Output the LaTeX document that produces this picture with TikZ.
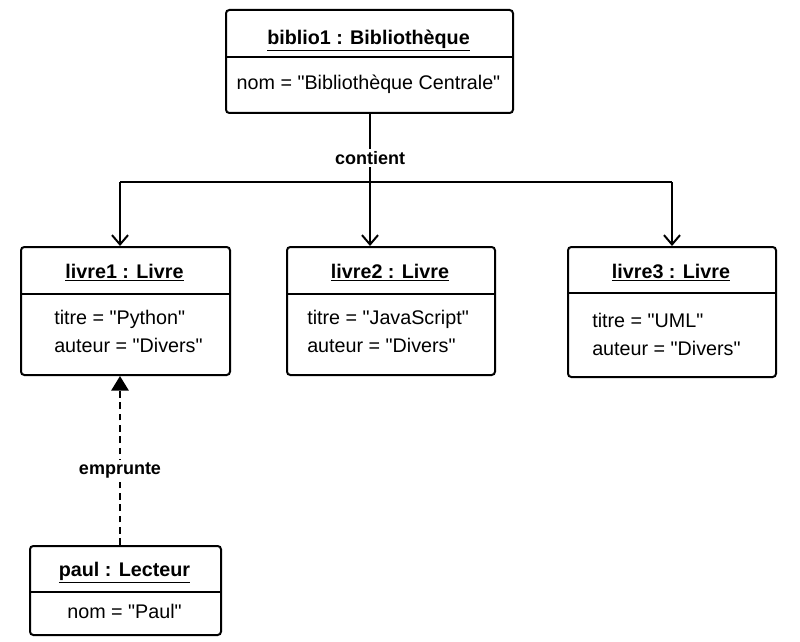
\documentclass[tikz,border=0pt]{standalone}
\usepackage{fontspec}
\setmainfont{Liberation Sans}
\usetikzlibrary{arrows.meta}
\newcommand\dq{\XeTeXglyph\XeTeXcharglyph"22\relax}
\begin{document}
\begin{tikzpicture}[x=0.75pt,y=-0.75pt,
  objbox/.style={draw,line width=1.5pt,rounded corners=2.5pt,inner sep=0pt},
  divline/.style={line width=1.2pt},
  title/.style={font=\fontsize{14.8}{18}\selectfont\bfseries,yshift=-2.5pt},
  attr/.style={font=\fontsize{14.8}{21}\selectfont,align=left,inner sep=0pt},
  conn/.style={line width=1.5pt},
  barb/.style={-{Straight Barb[length=7pt,width=12pt,line width=1.5pt]}},
  lbl/.style={font=\fontsize{13.5}{16}\selectfont\bfseries,fill=white,inner sep=2pt}]
\useasboundingbox (0,0) rectangle (800,642);
% biblio1
\node[objbox,minimum width=287*0.75pt,minimum height=103*0.75pt,anchor=north west] (biblio) at (225,9) {};
\draw[divline] (225,57) -- (512,57);
\node[title] (bt) at (368.5,37) {\underline{biblio1 : Bibliothèque}};
\node[attr] (ba) at (368.5,84) {nom = \dq Bibliothèque Centrale\dq};
% livre1
\node[objbox,minimum width=209*0.75pt,minimum height=128*0.75pt,anchor=north west] (livre1) at (20,246) {};
\draw[divline] (20,294) -- (229,294);
\node[title] (l1t) at (124.5,269) {\underline{livre1 : Livre}};
\node[attr,anchor=west] (l1a) at (54,331) {titre = \dq Python\dq\\auteur = \dq Divers\dq};
% livre2
\node[objbox,minimum width=208*0.75pt,minimum height=128*0.75pt,anchor=north west] (livre2) at (286,246) {};
\draw[divline] (286,294) -- (494,294);
\node[title] (l2t) at (390,269) {\underline{livre2 : Livre}};
\node[attr,anchor=west] (l2a) at (307,331) {titre = \dq JavaScript\dq\\auteur = \dq Divers\dq};
% livre3
\node[objbox,minimum width=208*0.75pt,minimum height=130*0.75pt,anchor=north west] (livre3) at (567,246) {};
\draw[divline] (567,293) -- (775,293);
\node[title] (l3t) at (671,269) {\underline{livre3 : Livre}};
\node[attr,anchor=west] (l3a) at (592,334) {titre = \dq UML\dq\\auteur = \dq Divers\dq};
% paul
\node[objbox,minimum width=191*0.75pt,minimum height=89*0.75pt,anchor=north west] (paul) at (29,545) {};
\draw[divline] (29,592) -- (220,592);
\node[title] (pt) at (124.5,569) {\underline{paul : Lecteur}};
\node[attr] (pa) at (124.5,611) {nom = \dq Paul\dq};
% contient
\coordinate (j1) at (120,182);
\coordinate (j2) at (370,182);
\coordinate (j3) at (672,182);
\draw[conn,barb] (j2 |- biblio.south) -- (j2 |- livre2.north);
\draw[conn] (j1) -- (j3);
\draw[conn,barb] (j1) -- (j1 |- livre1.north);
\draw[conn,barb] (j3) -- (j3 |- livre3.north);
\node[lbl] (lc) at (370,158) {contient};
% emprunte
\coordinate (p1) at (120,545);
\draw[conn,dash pattern=on 5pt off 3.5pt,-{Triangle[length=11pt,width=13pt]}] (p1) -- (p1 |- livre1.south);
\node[lbl] (le) at (120,470) {emprunte};
\end{tikzpicture}
\end{document}
